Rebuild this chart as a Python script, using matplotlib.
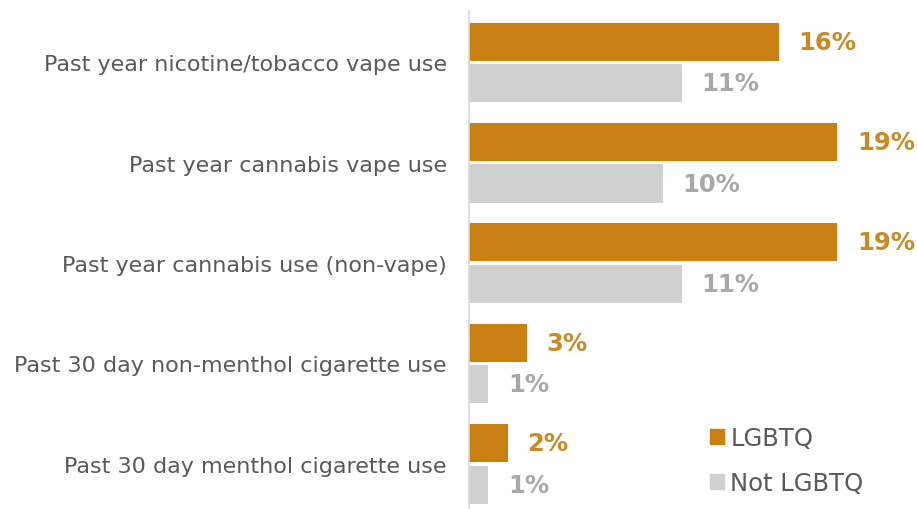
import matplotlib.pyplot as plt
import numpy as np
from matplotlib.patches import Patch

categories = [
    "Past year nicotine/tobacco vape use",
    "Past year cannabis vape use",
    "Past year cannabis use (non-vape)",
    "Past 30 day non-menthol cigarette use",
    "Past 30 day menthol cigarette use",
]
lgbtq = [16, 19, 19, 3, 2]
not_lgbtq = [11, 10, 11, 1, 1]
series_names = ["LGBTQ", "Not LGBTQ"]

ORANGE = "#C97F12"
GREY = "#D0D0D0"
ORANGE_TXT = "#C88A26"
GREY_TXT = "#A8A8A8"
LABEL_TXT = "#595959"

plt.rcParams["font.family"] = ["DejaVu Sans"]

fig = plt.figure(figsize=(9.17, 5.10), dpi=100)
ax = fig.add_axes([0.5115, 0.0, 0.4885, 0.976])

y = np.arange(len(categories))
h = 0.38
off = 0.207

ax.barh(y - off, lgbtq, height=h, color=ORANGE)
ax.barh(y + off, not_lgbtq, height=h, color=GREY)

for yi, v in zip(y, lgbtq):
    ax.text(v + 1.0, yi - off, f"{v}%", va="center", ha="left",
            fontsize=17.5, fontweight="bold", color=ORANGE_TXT)
for yi, v in zip(y, not_lgbtq):
    ax.text(v + 1.0, yi + off, f"{v}%", va="center", ha="left",
            fontsize=17.5, fontweight="bold", color=GREY_TXT)

ax.set_xlim(0, 23.1)
ax.set_ylim(4.45, -0.51)
ax.set_yticks(y)
ax.set_yticklabels(categories, fontsize=16, color=LABEL_TXT)
ax.tick_params(axis="y", length=0, pad=16)
ax.set_xticks([])
for s in ["top", "right", "bottom"]:
    ax.spines[s].set_visible(False)
ax.spines["left"].set_color("#D9D9D9")
ax.spines["left"].set_linewidth(1.2)

handles = [Patch(color=ORANGE), Patch(color=GREY)]
leg = fig.legend(handles, series_names, loc="upper left",
                 bbox_to_anchor=(0.75, 0.205), frameon=False,
                 fontsize=17.5, handlelength=0.6, handleheight=0.6,
                 handletextpad=0.25, labelspacing=0.85)
for t in leg.get_texts():
    t.set_color(LABEL_TXT)

fig.savefig("out.png", dpi=100)
